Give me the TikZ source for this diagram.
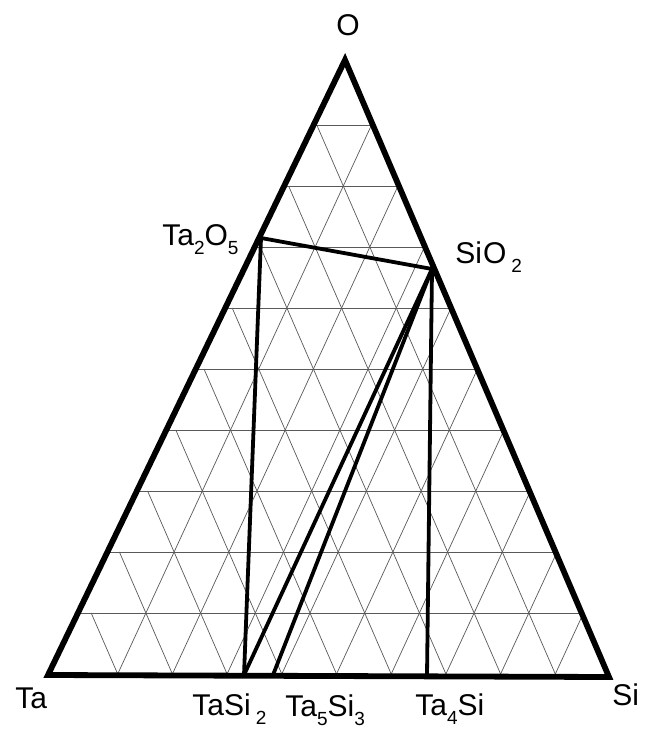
\documentclass[tikz,border=0pt]{standalone}
\usepackage{fontspec}
\setmainfont{Liberation Sans}
\usetikzlibrary{calc}
\newcommand\chemsub[1]{\raisebox{-4.5pt}{\fontsize{9.5}{9.5}\selectfont #1}}
\begin{document}
\begin{tikzpicture}[x=0.5pt,y=-0.5pt,
  frame/.style={line width=2.9pt, line join=miter},
  tie/.style={line width=1.9pt, line cap=round},
  gridline/.style={line width=0.35pt, black!65},
  lbl/.style={font=\fontsize{15}{18}\selectfont, inner sep=0pt, anchor=base west}]
\useasboundingbox (0,0) rectangle (652,731);
\fill[white] (0,0) rectangle (652,731);
% frame corners
\coordinate (Ta) at (48,675);
\coordinate (Si) at (609,677);
\coordinate (O) at (345,60);
% grid triangle
\coordinate (gA) at (345,64);
\coordinate (gL) at (63,674);
\coordinate (gR) at (610,674);
\begin{scope}
  \clip (Ta) -- (O) -- (Si) -- cycle;
  \foreach \k in {1,...,9}{
    \coordinate (h) at ($(gA)!\k/10!(gL)$);
    \draw[gridline] (Ta |- h) -- (Si |- h);
    \draw[gridline] ($(gL)!\k/10!(gR)$) -- ($(gA)!\k/10!(gR)$);
    \draw[gridline] ($(gL)!\k/10!(gR)$) -- ($(gL)!\k/10!(gA)$);
  }
\end{scope}
% compound points
\coordinate (pTa2O5) at (261,238);
\coordinate (pSiO2) at (432,269);
\coordinate (pTaSi2) at (244,675);
\coordinate (pTa5Si3) at (273,675);
\coordinate (pTa4Si) at (427,675);
% tie lines
\draw[tie] (pTa2O5) -- (pSiO2);
\draw[tie] (pTa2O5) -- (pTaSi2);
\draw[tie] (pSiO2) -- (pTaSi2);
\draw[tie] (pSiO2) -- (pTa5Si3);
\draw[tie] (pSiO2) -- (pTa4Si);
% frame
\draw[frame] (Ta) -- (O) -- (Si) -- cycle;
% labels
\node[lbl] (lO) at (336,36) {O};
\node[lbl] (lTa2O5) at (162,246) {Ta\chemsub{2}O\chemsub{5}};
\node[lbl] (lSiO2) at (455,264) {Si\hspace{0.5pt}O\,\chemsub{2}};
\node[lbl] (lTa) at (15,708) {Ta};
\node[lbl] (lTaSi2) at (192,715) {TaSi\,\chemsub{2}};
\node[lbl] (lTa5Si3) at (285,716) {Ta\chemsub{5}Si\chemsub{3}};
\node[lbl] (lTa4Si) at (415,715) {Ta\chemsub{4}Si};
\node[lbl] (lSi) at (612,705) {Si};
\end{tikzpicture}
\end{document}
